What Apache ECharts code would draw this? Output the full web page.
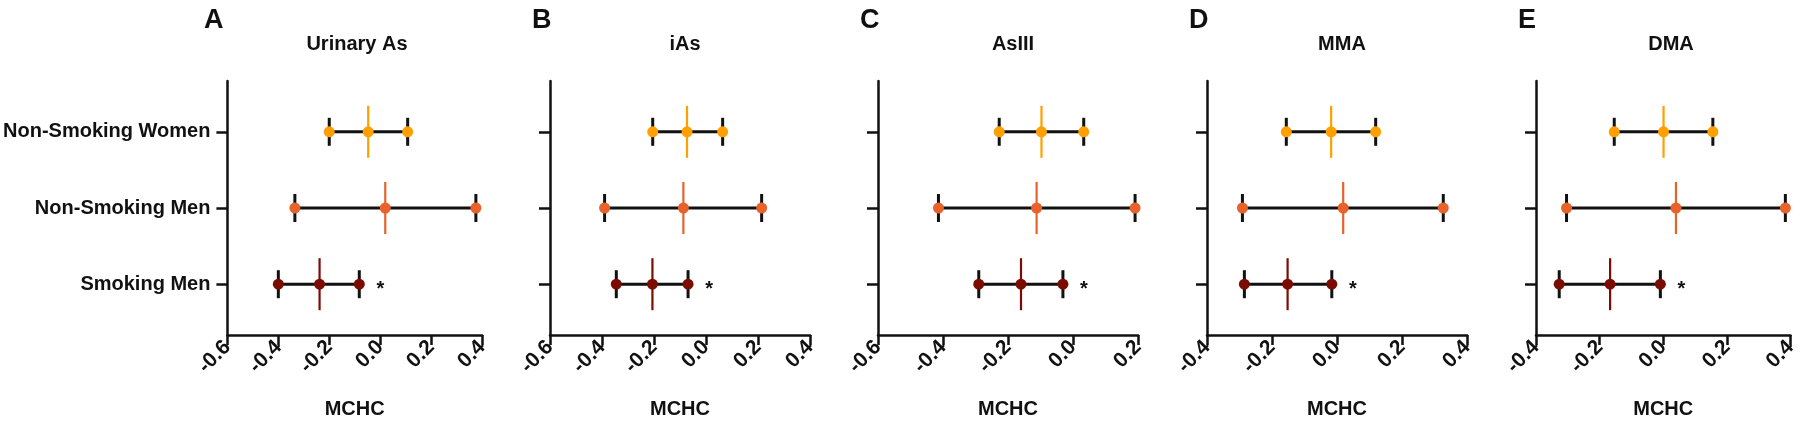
<!DOCTYPE html>
<html>
<head>
<meta charset="utf-8">
<script src="https://cdn.jsdelivr.net/npm/echarts@6/dist/echarts.min.js"></script>
<style>
  html, body { margin: 0; padding: 0; background: #fff; }
  #chart { width: 1800px; height: 424px; }
</style>
</head>
<body>
<div id="chart"></div>
<script>
/** 数据 */
const panelLetters = ['A', 'B', 'C', 'D', 'E']
const panelTitles = ['Urinary As', 'iAs', 'AsIII', 'MMA', 'DMA']
// groups, bottom to top
const groups = ['Smoking Men', 'Non-Smoking Men', 'Non-Smoking Women']
const groupColors = ['#7B0C02', '#E8622C', '#FFA000']
const significant = [true, false, false]

const xMin = [-0.6, -0.6, -0.6, -0.4, -0.4]
const xMax = [0.4, 0.4, 0.2, 0.4, 0.4]

// lower CI / estimate / upper CI, order = groups
const urinaryAsLo = [-0.40, -0.335, -0.20]
const urinaryAsMean = [-0.238, 0.02, -0.047]
const urinaryAsHi = [-0.082, 0.376, 0.108]

const iAsLo = [-0.345, -0.39, -0.205]
const iAsMean = [-0.206, -0.087, -0.073]
const iAsHi = [-0.069, 0.214, 0.064]

const asIIILo = [-0.29, -0.414, -0.227]
const asIIIMean = [-0.16, -0.112, -0.097]
const asIIIHi = [-0.031, 0.191, 0.033]

const mmaLo = [-0.285, -0.291, -0.156]
const mmaMean = [-0.152, 0.019, -0.018]
const mmaHi = [-0.016, 0.327, 0.119]

const dmaLo = [-0.327, -0.304, -0.154]
const dmaMean = [-0.167, 0.04, 0.001]
const dmaHi = [-0.009, 0.384, 0.156]

const allLo = [urinaryAsLo, iAsLo, asIIILo, mmaLo, dmaLo]
const allMean = [urinaryAsMean, iAsMean, asIIIMean, mmaMean, dmaMean]
const allHi = [urinaryAsHi, iAsHi, asIIIHi, mmaHi, dmaHi]

/** 布局 */
const FONT = "'Liberation Sans', Arial, sans-serif"
const gridLefts = [222, 550, 878, 1207, 1536]
const gridWidth = 260
const gridTop = 81
const gridHeight = 259

// y 类目：两端留白，组间隔 3 格
const rowIndex = [2, 5, 8]
const yCategories = []
for (let i = 0; i <= 10; i++) {
    let g = rowIndex.indexOf(i)
    yCategories.push(g >= 0 ? groups[g] : '_' + i)
}
const isRow = (idx, value) => value.charAt(0) !== '_'

function fmtTick(v) {
    if (Math.abs(v) < 1e-9) return '0.0'
    return v.toFixed(1)
}

function renderForest(params, api) {
    let g = api.value(4)
    let color = groupColors[g]
    let pLo = api.coord([api.value(0), api.value(3)])
    let pMean = api.coord([api.value(1), api.value(3)])
    let pHi = api.coord([api.value(2), api.value(3)])
    let y = pLo[1]
    let black = { stroke: '#111', lineWidth: 3 }
    let children = [
        { type: 'line', shape: { x1: pLo[0], y1: y, x2: pHi[0], y2: y }, style: black },
        { type: 'line', shape: { x1: pLo[0], y1: y - 14, x2: pLo[0], y2: y + 14 }, style: black },
        { type: 'line', shape: { x1: pHi[0], y1: y - 14, x2: pHi[0], y2: y + 14 }, style: black },
        { type: 'line', shape: { x1: pMean[0], y1: y - 26, x2: pMean[0], y2: y + 26 },
          style: { stroke: color, lineWidth: 2.2 } },
        { type: 'circle', shape: { cx: pLo[0], cy: y, r: 5.5 }, style: { fill: color } },
        { type: 'circle', shape: { cx: pMean[0], cy: y, r: 5.5 }, style: { fill: color } },
        { type: 'circle', shape: { cx: pHi[0], cy: y, r: 5.5 }, style: { fill: color } }
    ]
    if (significant[g]) {
        children.push({
            type: 'text',
            style: {
                x: pHi[0] + 21, y: y + 5, text: '*',
                fill: '#111', font: 'bold 20px ' + FONT,
                align: 'center', verticalAlign: 'middle'
            }
        })
    }
    return { type: 'group', children: children }
}

let titles = []
let grids = []
let xAxes = []
let yAxes = []
let series = []

for (let p = 0; p < 5; p++) {
    let cx = gridLefts[p] + gridWidth / 2
    titles.push({
        text: panelTitles[p], left: cx, top: 29, textAlign: 'center',
        textStyle: { fontFamily: FONT, fontWeight: 'bold', fontSize: 20, color: '#111' }
    })
    titles.push({
        text: panelLetters[p], left: gridLefts[p] - 23, top: 2,
        textStyle: { fontFamily: FONT, fontWeight: 'bold', fontSize: 27, color: '#111' }
    })
    grids.push({ left: gridLefts[p], top: gridTop, width: gridWidth, height: gridHeight })
    xAxes.push({
        type: 'value', gridIndex: p, min: xMin[p], max: xMax[p], interval: 0.2,
        axisLine: { show: true, onZero: false, lineStyle: { color: '#111', width: 2.5 } },
        axisTick: { show: true, length: 10, lineStyle: { color: '#111', width: 2.5 } },
        splitLine: { show: false },
        axisLabel: {
            rotate: 45, margin: 9, formatter: fmtTick, color: '#111',
            fontFamily: FONT, fontWeight: 'bold', fontSize: 21
        },
        name: 'MCHC', nameLocation: 'middle', nameGap: 64,
        nameTextStyle: { fontFamily: FONT, fontWeight: 'bold', fontSize: 20, color: '#111' }
    })
    yAxes.push({
        type: 'category', gridIndex: p, data: yCategories, boundaryGap: false,
        axisLine: { show: true, onZero: false, lineStyle: { color: '#111', width: 2.5 } },
        axisTick: { show: true, length: 11, interval: isRow, lineStyle: { color: '#111', width: 2.5 } },
        splitLine: { show: false },
        axisLabel: {
            show: p === 0, interval: isRow, margin: 17, color: '#111',
            fontFamily: FONT, fontWeight: 'bold', fontSize: 20
        }
    })
    let data = []
    for (let g = 0; g < groups.length; g++) {
        data.push([allLo[p][g], allMean[p][g], allHi[p][g], rowIndex[g], g])
    }
    series.push({
        type: 'custom', xAxisIndex: p, yAxisIndex: p,
        renderItem: renderForest,
        encode: { x: [0, 1, 2], y: 3 },
        data: data,
        clip: false,
        silent: true
    })
}

let chart = echarts.init(document.getElementById('chart'))
chart.setOption({
    backgroundColor: '#fff',
    animation: false,
    title: titles,
    grid: grids,
    xAxis: xAxes,
    yAxis: yAxes,
    series: series
})
</script>
</body>
</html>
